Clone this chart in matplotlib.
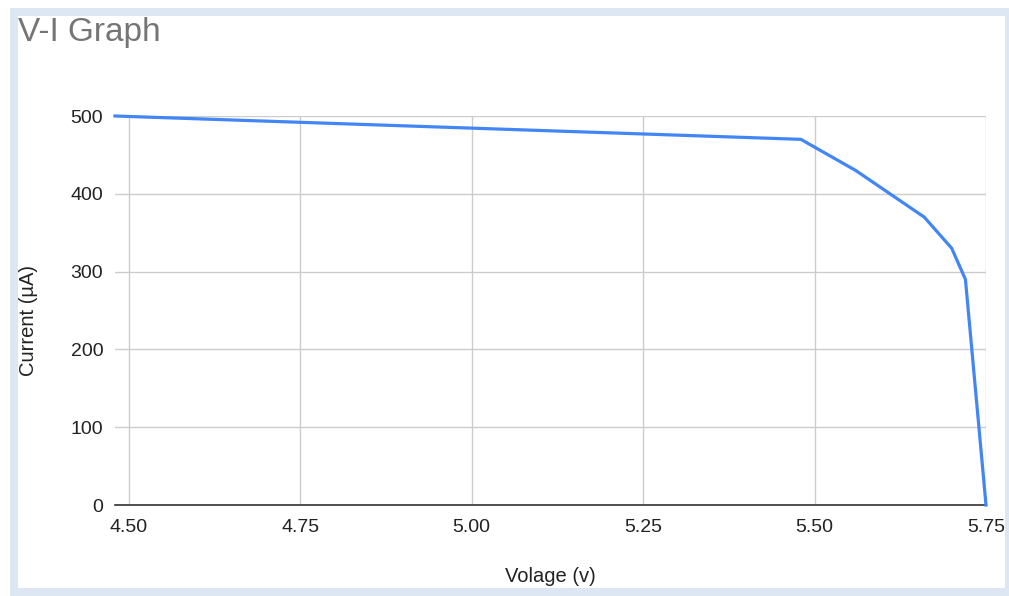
import matplotlib
matplotlib.use("Agg")
import matplotlib.pyplot as plt
from matplotlib.patches import Rectangle

voltage = [4.48, 5.48, 5.56, 5.66, 5.70, 5.72, 5.75]
current = [500, 470, 430, 370, 330, 290, 0]
x_ticks = [4.50, 4.75, 5.00, 5.25, 5.50, 5.75]
x_tick_labels = ["4.50", "4.75", "5.00", "5.25", "5.50", "5.75"]
y_ticks = [0, 100, 200, 300, 400, 500]

plt.rcParams['font.family'] = ['Liberation Sans', 'DejaVu Sans']

W, H = 1009, 596
fig = plt.figure(figsize=(W / 100, H / 100), dpi=100)
fig.patch.set_facecolor('white')


def px_rect(x0, y0, x1, y1, color, z):
    return Rectangle((x0 / W, 1 - y1 / H), (x1 - x0) / W, (y1 - y0) / H,
                     transform=fig.transFigure, facecolor=color,
                     edgecolor='none', zorder=z)


fig.patches.append(px_rect(10, 8, 1009, 596, '#dde7f3', -3))
fig.patches.append(px_rect(18, 16, 1005, 588, 'white', -2))

ax = fig.add_axes([115 / W, 1 - 505 / H, (986 - 115) / W, (505 - 116) / H])
ax.set_zorder(1)
ax.set_facecolor('none')
ax.plot(voltage, current, color='#4285f4', linewidth=2.3, zorder=3,
        solid_joinstyle='round', clip_on=False)
ax.set_xlim(4.48, 5.75)
ax.set_ylim(0, 500)
ax.set_xticks(x_ticks)
ax.set_xticklabels(x_tick_labels)
ax.set_yticks(y_ticks)
ax.grid(True, color='#cccccc', linewidth=1.0, zorder=0)
ax.axhline(0, color='#333333', linewidth=1.2, zorder=2, clip_on=False)
for s in ax.spines.values():
    s.set_visible(False)
ax.tick_params(axis='both', length=0, labelsize=14, colors='#222222')
ax.tick_params(axis='y', pad=8.5)
ax.tick_params(axis='x', pad=10)

fig.text(550 / W, 1 - 577 / H, "Volage (v)", ha='center', va='center',
         fontsize=14.5, color='#222222', zorder=5)
fig.text(28 / W, 1 - 320 / H, "Current (µA)", ha='center', va='center',
         rotation=90, fontsize=14.5, color='#222222', zorder=5)
fig.text(18 / W, 1 - 32 / H, "V-I Graph", ha='left', va='center',
         fontsize=24, color='#757575', zorder=5)

fig.savefig('out.png', dpi=100, facecolor='white')
